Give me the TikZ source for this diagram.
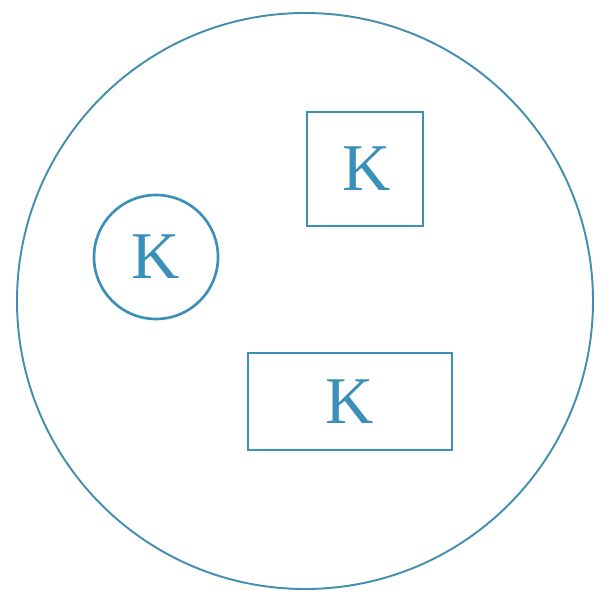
\documentclass[tikz,border=0pt]{standalone}
\usepackage{fontspec}
\setmainfont{Liberation Serif}
\definecolor{setblue}{RGB}{58,144,184}
\tikzset{
  elem/.style={draw=setblue, line width=1.5pt, text=setblue, inner sep=0pt,
               font=\fontsize{38}{40}\selectfont},
}
\begin{document}
\begin{tikzpicture}
                \useasboundingbox (0,0) rectangle (12.04,11.8);
                % the whole set
                \draw[setblue!85!gray, line width=1.1pt] (6.1,5.78) circle[radius=5.76];
                \node[elem, circle, minimum size=2.48cm] (ringK) at (3.12,6.66) {K};
                \node[elem, rectangle, minimum width=2.32cm, minimum height=2.28cm] (squareK) at (7.30,8.42) {\hspace{0.08cm}K};
                \node[elem, rectangle, minimum width=4.08cm, minimum height=1.94cm] (boxK) at (7.00,3.77) {K};
\end{tikzpicture}
\end{document}
